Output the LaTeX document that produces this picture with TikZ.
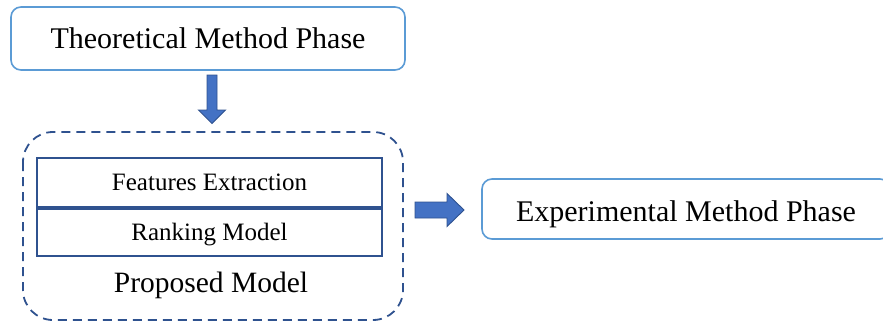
\documentclass[tikz,border=0pt]{standalone}
\usepackage{fontspec}
\setmainfont{Liberation Serif}
\definecolor{phaseblue}{HTML}{5B9BD5}
\definecolor{darkblue}{HTML}{2F528F}
\definecolor{arrowfill}{HTML}{4472C4}
\begin{document}
\begin{tikzpicture}[x=1pt,y=-1pt,
  phasebox/.style={draw=phaseblue, line width=1.6pt, rounded corners=10pt,
    inner sep=0pt, font=\fontsize{30}{30}\selectfont, text height=19.5pt, text depth=0pt},
  layerbox/.style={draw=darkblue, line width=1.8pt, inner sep=0pt,
    minimum width=345pt, font=\fontsize{25}{25}\selectfont, text height=16.5pt, text depth=0pt},
  blockarrow/.style={fill=arrowfill, draw=darkblue, line width=0.9pt, line join=miter},
  groupbox/.style={draw=darkblue, line width=1.8pt, dash pattern=on 9pt off 6pt, rounded corners=30pt}]
\useasboundingbox (0,0) rectangle (883,321);
\clip (0,0) rectangle (883,321);

% phases
\node[phasebox, minimum width=394pt, minimum height=63pt] (theo) at (208,38.5) {};
\node[font=\fontsize{30}{30}\selectfont, text height=19.5pt, text depth=0pt, inner sep=0pt] (theotxt) at (208,39) {Theoretical Method Phase};
\node[phasebox, minimum width=408pt, minimum height=60pt] (exp) at (686,209) {};
\node[font=\fontsize{30}{30}\selectfont, text height=19pt, text depth=0pt, inner sep=0pt] (exptxt) at (686,211.5) {Experimental Method Phase};

% proposed model group
\draw[groupbox] (23,132) rectangle (403,320);
\node[layerbox, minimum height=49pt] (feat) at (209.5,182.5) {Features Extraction};
\node[layerbox, minimum height=47pt, anchor=north] (rank) at (feat.south) {Ranking Model};
\node[inner sep=0pt, font=\fontsize{29.5}{29.5}\selectfont, text height=19.5pt, text depth=0pt] (prop) at (211,282.5) {Proposed Model};

% block arrows
\draw[blockarrow] (207,75) -- (217,75) -- (217,110) -- (225.5,110) -- (212,123.5)
  -- (198.5,110) -- (207,110) -- cycle;
\draw[blockarrow] (415,202) -- (447,202) -- (447,193.5) -- (464,210) -- (447,226.5)
  -- (447,218) -- (415,218) -- cycle;
\end{tikzpicture}
\end{document}
